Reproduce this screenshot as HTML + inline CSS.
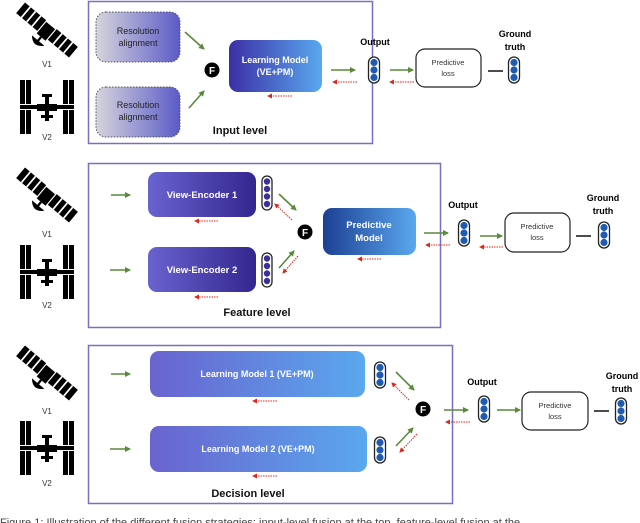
<!DOCTYPE html>
<html><head><meta charset="utf-8"><style>
html,body{margin:0;padding:0;background:#fff;width:640px;height:523px;overflow:hidden}
svg{display:block}
text{font-family:"Liberation Sans",sans-serif}
</style></head><body>
<svg width="640" height="523" viewBox="0 0 640 523" xmlns="http://www.w3.org/2000/svg">
<defs>
<linearGradient id="gRes" x1="0" x2="1"><stop offset="0" stop-color="#d6d4dc"/><stop offset="1" stop-color="#5b5bc8"/></linearGradient>
<linearGradient id="gLM" x1="0" x2="1"><stop offset="0" stop-color="#3b2fa6"/><stop offset="1" stop-color="#5aa8ee"/></linearGradient>
<linearGradient id="gVE" x1="0" x2="1"><stop offset="0" stop-color="#6a63cf"/><stop offset="1" stop-color="#33268f"/></linearGradient>
<linearGradient id="gPM" x1="0" x2="1"><stop offset="0" stop-color="#1d3f94"/><stop offset="1" stop-color="#5aa8ee"/></linearGradient>
<linearGradient id="gDL" x1="0" x2="1"><stop offset="0" stop-color="#6a63cf"/><stop offset="1" stop-color="#5aa8ee"/></linearGradient>
<marker id="ag" markerWidth="6" markerHeight="6" refX="5" refY="3" orient="auto" markerUnits="userSpaceOnUse"><path d="M0,0 L6,3 L0,6z" fill="#5a8a3a"/></marker>
<marker id="ar" markerWidth="5" markerHeight="5" refX="4" refY="2.5" orient="auto" markerUnits="userSpaceOnUse"><path d="M0,0 L5,2.5 L0,5z" fill="#e0261c"/></marker>
<g id="sat">
 <g transform="rotate(40) scale(1.15)">
  <rect x="-30" y="-6" width="24" height="12" fill="#000"/>
  <rect x="6" y="-6" width="24" height="12" fill="#000"/>
  <line x1="-24" y1="-6" x2="-24" y2="6" stroke="#fff" stroke-width="1.5"/>
  <line x1="-18" y1="-6" x2="-18" y2="6" stroke="#fff" stroke-width="1.5"/>
  <line x1="-12" y1="-6" x2="-12" y2="6" stroke="#fff" stroke-width="1.5"/>
  <line x1="12" y1="-6" x2="12" y2="6" stroke="#fff" stroke-width="1.5"/>
  <line x1="18" y1="-6" x2="18" y2="6" stroke="#fff" stroke-width="1.5"/>
  <line x1="24" y1="-6" x2="24" y2="6" stroke="#fff" stroke-width="1.5"/>
  <rect x="-5" y="-5" width="10" height="13" fill="#000"/>
  <path d="M-7,12 Q0,20 7,12 Z" fill="#000"/>
  <line x1="0" y1="8" x2="0" y2="14" stroke="#000" stroke-width="2"/>
 </g>
</g>
<g id="iss">
 <rect x="-27" y="-27" width="5" height="24" fill="#000"/><rect x="-21" y="-27" width="5" height="24" fill="#000"/>
 <rect x="-27" y="3" width="5" height="24" fill="#000"/><rect x="-21" y="3" width="5" height="24" fill="#000"/>
 <rect x="16" y="-27" width="5" height="24" fill="#000"/><rect x="22" y="-27" width="5" height="24" fill="#000"/>
 <rect x="16" y="3" width="5" height="24" fill="#000"/><rect x="22" y="3" width="5" height="24" fill="#000"/>
 <rect x="-27" y="-2" width="54" height="4" fill="#000"/>
 <rect x="-10" y="-3" width="20" height="7" fill="#000"/>
 <rect x="-2" y="-12" width="4" height="26" fill="#000"/>
 <rect x="-5" y="-13" width="10" height="3" fill="#000"/>
 <rect x="-6" y="8" width="12" height="3" fill="#000"/>
</g>
<g id="pill3"><rect x="-5.5" y="-13" width="11" height="26" rx="5.5" fill="#fff" stroke="#222" stroke-width="1.3"/><circle cx="0" cy="-7.5" r="3.6" fill="#1f5bb0"/><circle cx="0" cy="0" r="3.6" fill="#1f5bb0"/><circle cx="0" cy="7.5" r="3.6" fill="#1f5bb0"/></g>
<g id="pill4"><rect x="-5" y="-17" width="10" height="34" rx="5" fill="#fff" stroke="#222" stroke-width="1.3"/><circle cx="0" cy="-11.5" r="3.2" fill="#3a2f9e"/><circle cx="0" cy="-4" r="3.2" fill="#3a2f9e"/><circle cx="0" cy="3.5" r="3.2" fill="#3a2f9e"/><circle cx="0" cy="11" r="3.2" fill="#3a2f9e"/></g>
</defs>

<!-- ===== Section 1 ===== -->
<use href="#sat" x="47" y="30"/>
<text x="47" y="67" font-size="8" text-anchor="middle" fill="#333">V1</text>
<use href="#iss" x="47" y="107"/>
<text x="47" y="140" font-size="8" text-anchor="middle" fill="#333">V2</text>

<rect x="88.5" y="1.5" width="284" height="142" fill="none" stroke="#7b6cc4" stroke-width="1.5"/>
<rect x="96" y="12" width="84" height="50" rx="10" fill="url(#gRes)" stroke="#555" stroke-dasharray="1.5,1.5"/>
<text x="138" y="34" font-size="9" text-anchor="middle" fill="#222">Resolution</text>
<text x="138" y="46" font-size="9" text-anchor="middle" fill="#222">alignment</text>
<rect x="96" y="87" width="84" height="50" rx="10" fill="url(#gRes)" stroke="#555" stroke-dasharray="1.5,1.5"/>
<text x="138" y="108" font-size="9" text-anchor="middle" fill="#222">Resolution</text>
<text x="138" y="120" font-size="9" text-anchor="middle" fill="#222">alignment</text>
<line x1="185" y1="32" x2="204" y2="49" stroke="#5a8a3a" stroke-width="1.6" marker-end="url(#ag)"/>
<line x1="189" y1="108" x2="204" y2="91" stroke="#5a8a3a" stroke-width="1.6" marker-end="url(#ag)"/>
<circle cx="212" cy="70" r="7.5" fill="#000"/><text x="212" y="74" font-size="10" font-weight="bold" text-anchor="middle" fill="#fff">F</text>
<rect x="229" y="40" width="93" height="52" rx="9" fill="url(#gLM)"/>
<text x="275" y="63" font-size="9" font-weight="bold" text-anchor="middle" fill="#fff">Learning Model</text>
<text x="275" y="75" font-size="9" font-weight="bold" text-anchor="middle" fill="#fff">(VE+PM)</text>
<line x1="292" y1="96" x2="268" y2="96" stroke="#e0261c" stroke-dasharray="1.5,1" marker-end="url(#ar)"/>
<text x="240" y="134" font-size="11" font-weight="bold" text-anchor="middle" fill="#111">Input level</text>

<text x="375" y="45" font-size="9" font-weight="bold" text-anchor="middle">Output</text>
<line x1="331" y1="70" x2="355" y2="70" stroke="#5a8a3a" stroke-width="1.6" marker-end="url(#ag)"/>
<line x1="357" y1="82" x2="333" y2="82" stroke="#e0261c" stroke-dasharray="1.5,1" marker-end="url(#ar)"/>
<use href="#pill3" x="374" y="70"/>
<line x1="390" y1="70" x2="413" y2="70" stroke="#5a8a3a" stroke-width="1.6" marker-end="url(#ag)"/>
<line x1="414" y1="82" x2="390" y2="82" stroke="#e0261c" stroke-dasharray="1.5,1" marker-end="url(#ar)"/>
<rect x="416" y="49" width="65" height="38" rx="9" fill="#fff" stroke="#222" stroke-width="1.2"/>
<text x="448" y="65" font-size="7.5" text-anchor="middle" fill="#333">Predictive</text>
<text x="448" y="76" font-size="7.5" text-anchor="middle" fill="#333">loss</text>
<line x1="488" y1="71" x2="503" y2="71" stroke="#111" stroke-width="1.5"/>
<use href="#pill3" x="514" y="70"/>
<text x="515" y="37" font-size="9" font-weight="bold" text-anchor="middle">Ground</text>
<text x="515" y="50" font-size="9" font-weight="bold" text-anchor="middle">truth</text>

<!-- ===== Section 2 ===== -->
<use href="#sat" x="47" y="195"/>
<text x="47" y="237" font-size="8" text-anchor="middle" fill="#333">V1</text>
<use href="#iss" x="47" y="272"/>
<text x="47" y="308" font-size="8" text-anchor="middle" fill="#333">V2</text>

<rect x="88.5" y="163.5" width="352" height="164" fill="none" stroke="#7b6cc4" stroke-width="1.5"/>
<line x1="111" y1="195" x2="130" y2="195" stroke="#5a8a3a" stroke-width="1.6" marker-end="url(#ag)"/>
<line x1="110" y1="270" x2="130" y2="270" stroke="#5a8a3a" stroke-width="1.6" marker-end="url(#ag)"/>
<rect x="148" y="172" width="108" height="45" rx="9" fill="url(#gVE)"/>
<text x="202" y="198" font-size="9.5" font-weight="bold" text-anchor="middle" fill="#fff">View-Encoder 1</text>
<rect x="148" y="247" width="108" height="45" rx="9" fill="url(#gVE)"/>
<text x="202" y="273" font-size="9.5" font-weight="bold" text-anchor="middle" fill="#fff">View-Encoder 2</text>
<line x1="218" y1="221" x2="195" y2="221" stroke="#e0261c" stroke-dasharray="1.5,1" marker-end="url(#ar)"/>
<line x1="218" y1="297" x2="195" y2="297" stroke="#e0261c" stroke-dasharray="1.5,1" marker-end="url(#ar)"/>
<use href="#pill4" x="267" y="193"/>
<use href="#pill4" x="267" y="270"/>
<line x1="279" y1="194" x2="296" y2="210" stroke="#5a8a3a" stroke-width="1.6" marker-end="url(#ag)"/>
<line x1="292" y1="220" x2="275" y2="204" stroke="#e0261c" stroke-dasharray="1.5,1" marker-end="url(#ar)"/>
<line x1="279" y1="268" x2="294" y2="251" stroke="#5a8a3a" stroke-width="1.6" marker-end="url(#ag)"/>
<line x1="298" y1="256" x2="283" y2="273" stroke="#e0261c" stroke-dasharray="1.5,1" marker-end="url(#ar)"/>
<circle cx="305" cy="232" r="7.5" fill="#000"/><text x="305" y="236" font-size="10" font-weight="bold" text-anchor="middle" fill="#fff">F</text>
<rect x="323" y="208" width="93" height="47" rx="9" fill="url(#gPM)"/>
<text x="369" y="228" font-size="9.5" font-weight="bold" text-anchor="middle" fill="#fff">Predictive</text>
<text x="369" y="241" font-size="9.5" font-weight="bold" text-anchor="middle" fill="#fff">Model</text>
<line x1="381" y1="259" x2="358" y2="259" stroke="#e0261c" stroke-dasharray="1.5,1" marker-end="url(#ar)"/>
<text x="257" y="316" font-size="11" font-weight="bold" text-anchor="middle" fill="#111">Feature level</text>

<text x="463" y="208" font-size="9" font-weight="bold" text-anchor="middle">Output</text>
<line x1="424" y1="233" x2="448" y2="233" stroke="#5a8a3a" stroke-width="1.6" marker-end="url(#ag)"/>
<line x1="450" y1="245" x2="426" y2="245" stroke="#e0261c" stroke-dasharray="1.5,1" marker-end="url(#ar)"/>
<use href="#pill3" x="464" y="233"/>
<line x1="480" y1="236" x2="502" y2="236" stroke="#5a8a3a" stroke-width="1.6" marker-end="url(#ag)"/>
<line x1="503" y1="247" x2="480" y2="247" stroke="#e0261c" stroke-dasharray="1.5,1" marker-end="url(#ar)"/>
<rect x="505" y="213" width="65" height="39" rx="9" fill="#fff" stroke="#222" stroke-width="1.2"/>
<text x="537" y="229" font-size="7.5" text-anchor="middle" fill="#333">Predictive</text>
<text x="537" y="240" font-size="7.5" text-anchor="middle" fill="#333">loss</text>
<line x1="576" y1="236" x2="591" y2="236" stroke="#111" stroke-width="1.5"/>
<use href="#pill3" x="604" y="235"/>
<text x="603" y="201" font-size="9" font-weight="bold" text-anchor="middle">Ground</text>
<text x="603" y="214" font-size="9" font-weight="bold" text-anchor="middle">truth</text>

<!-- ===== Section 3 ===== -->
<use href="#sat" x="47" y="373"/>
<text x="47" y="414" font-size="8" text-anchor="middle" fill="#333">V1</text>
<use href="#iss" x="47" y="448"/>
<text x="47" y="486" font-size="8" text-anchor="middle" fill="#333">V2</text>

<rect x="88.5" y="345.5" width="364" height="158" fill="none" stroke="#7b6cc4" stroke-width="1.5"/>
<line x1="111" y1="374" x2="130" y2="374" stroke="#5a8a3a" stroke-width="1.6" marker-end="url(#ag)"/>
<line x1="110" y1="449" x2="130" y2="449" stroke="#5a8a3a" stroke-width="1.6" marker-end="url(#ag)"/>
<rect x="150" y="351" width="215" height="46" rx="9" fill="url(#gDL)"/>
<text x="257" y="377" font-size="9" font-weight="bold" text-anchor="middle" fill="#fff">Learning Model 1 (VE+PM)</text>
<rect x="150" y="426" width="217" height="46" rx="9" fill="url(#gDL)"/>
<text x="258" y="452" font-size="9" font-weight="bold" text-anchor="middle" fill="#fff">Learning Model 2 (VE+PM)</text>
<line x1="277" y1="401" x2="253" y2="401" stroke="#e0261c" stroke-dasharray="1.5,1" marker-end="url(#ar)"/>
<line x1="277" y1="476" x2="253" y2="476" stroke="#e0261c" stroke-dasharray="1.5,1" marker-end="url(#ar)"/>
<use href="#pill3" x="380" y="375"/>
<use href="#pill3" x="380" y="450"/>
<line x1="396" y1="372" x2="414" y2="390" stroke="#5a8a3a" stroke-width="1.6" marker-end="url(#ag)"/>
<line x1="409" y1="400" x2="392" y2="383" stroke="#e0261c" stroke-dasharray="1.5,1" marker-end="url(#ar)"/>
<line x1="396" y1="446" x2="413" y2="428" stroke="#5a8a3a" stroke-width="1.6" marker-end="url(#ag)"/>
<line x1="417" y1="434" x2="400" y2="452" stroke="#e0261c" stroke-dasharray="1.5,1" marker-end="url(#ar)"/>
<circle cx="423" cy="409" r="7.5" fill="#000"/><text x="423" y="413" font-size="10" font-weight="bold" text-anchor="middle" fill="#fff">F</text>
<text x="248" y="497" font-size="11" font-weight="bold" text-anchor="middle" fill="#111">Decision level</text>

<text x="482" y="385" font-size="9" font-weight="bold" text-anchor="middle">Output</text>
<line x1="444" y1="410" x2="468" y2="410" stroke="#5a8a3a" stroke-width="1.6" marker-end="url(#ag)"/>
<line x1="470" y1="422" x2="446" y2="422" stroke="#e0261c" stroke-dasharray="1.5,1" marker-end="url(#ar)"/>
<use href="#pill3" x="484" y="409"/>
<line x1="497" y1="410" x2="520" y2="410" stroke="#5a8a3a" stroke-width="1.6" marker-end="url(#ag)"/>
<rect x="522" y="392" width="66" height="38" rx="9" fill="#fff" stroke="#222" stroke-width="1.2"/>
<text x="555" y="408" font-size="7.5" text-anchor="middle" fill="#333">Predictive</text>
<text x="555" y="419" font-size="7.5" text-anchor="middle" fill="#333">loss</text>
<line x1="594" y1="411" x2="609" y2="411" stroke="#111" stroke-width="1.5"/>
<use href="#pill3" x="621" y="411"/>
<text x="622" y="379" font-size="9" font-weight="bold" text-anchor="middle">Ground</text>
<text x="622" y="392" font-size="9" font-weight="bold" text-anchor="middle">truth</text>

<text x="0" y="526" font-size="11" fill="#444" font-family="Liberation Serif, serif">Figure 1: Illustration of the different fusion strategies: input-level fusion at the top, feature-level fusion at the</text>
</svg>
</body></html>
